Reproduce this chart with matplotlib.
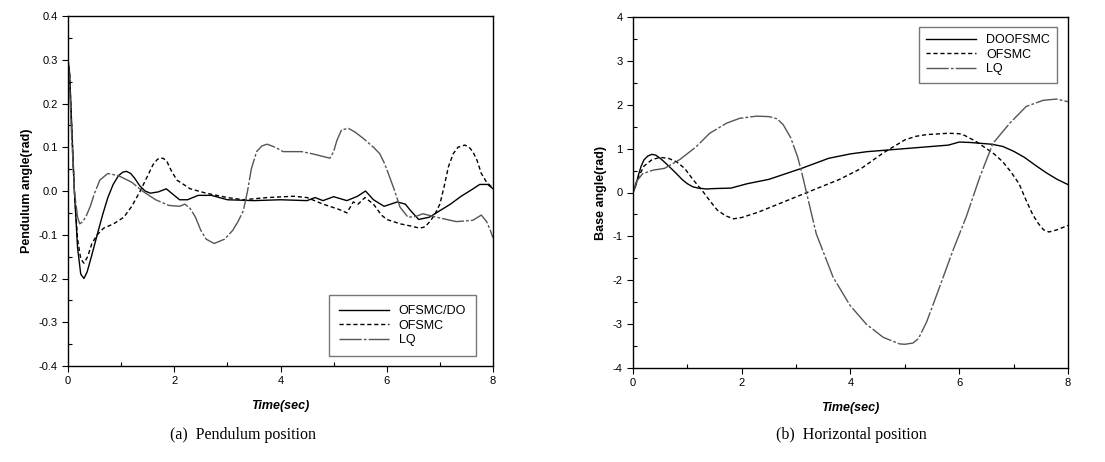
import matplotlib
matplotlib.use('Agg')
from matplotlib import pyplot as plt
from matplotlib.ticker import MultipleLocator

# (a) pendulum angle
t_do_a = [0.0, 0.03, 0.07, 0.12, 0.18, 0.24, 0.3, 0.36, 0.44, 0.55, 0.65, 0.75, 0.85, 0.95, 1.03, 1.1, 1.18,
          1.25, 1.35, 1.45, 1.55, 1.7, 1.85, 1.95, 2.1, 2.25, 2.45, 2.7, 3.0, 3.5, 4.0, 4.5, 4.65, 4.8,
          5.0, 5.25, 5.45, 5.6, 5.75, 5.95, 6.2, 6.35, 6.45, 6.6, 6.8, 7.0, 7.2, 7.4, 7.6, 7.75, 7.9, 8.0]
y_do_a = [0.3, 0.27, 0.15, 0.0, -0.13, -0.19, -0.2, -0.185, -0.15, -0.1, -0.055, -0.015, 0.015, 0.035, 0.043, 0.045, 0.04,
          0.03, 0.012, 0.0, -0.005, -0.002, 0.005, -0.005, -0.02, -0.02, -0.01, -0.01, -0.02, -0.022, -0.02, -0.022, -0.015, -0.022,
          -0.013, -0.022, -0.012, 0.0, -0.02, -0.035, -0.025, -0.03, -0.045, -0.065, -0.06, -0.045, -0.03, -0.012, 0.003, 0.015, 0.015, 0.005]

t_of_a = [0.0, 0.03, 0.07, 0.12, 0.18, 0.24, 0.3, 0.37, 0.45, 0.55, 0.67, 0.86, 1.05, 1.2, 1.36, 1.5, 1.6,
          1.68, 1.74, 1.8, 1.86, 1.95, 2.05, 2.3, 2.6, 3.0, 3.3, 3.75, 4.25, 4.5, 4.8, 5.1, 5.25, 5.37,
          5.46, 5.59, 5.75, 5.9, 6.0, 6.25, 6.45, 6.62, 6.72, 6.81, 6.9, 7.0, 7.08, 7.16, 7.25, 7.34, 7.47,
          7.55, 7.62, 7.7, 7.78, 7.88, 7.97, 8.0]
y_of_a = [0.3, 0.27, 0.14, 0.0, -0.11, -0.155, -0.165, -0.15, -0.12, -0.1, -0.085, -0.075, -0.06, -0.035, 0.0, 0.035, 0.06,
          0.072, 0.076, 0.074, 0.068, 0.045, 0.025, 0.005, -0.005, -0.015, -0.02, -0.015, -0.012, -0.015, -0.03, -0.042, -0.05, -0.025,
          -0.03, -0.015, -0.03, -0.055, -0.065, -0.075, -0.08, -0.085, -0.082, -0.07, -0.055, -0.03, 0.01, 0.055, 0.085, 0.1, 0.105,
          0.1, 0.09, 0.07, 0.04, 0.02, 0.01, 0.005]

t_lq_a = [0.0, 0.02, 0.06, 0.12, 0.18, 0.22, 0.28, 0.35, 0.42, 0.5, 0.6, 0.75, 0.95, 1.2, 1.4, 1.65, 1.9,
          2.1, 2.2, 2.3, 2.4, 2.5, 2.6, 2.75, 2.95, 3.1, 3.2, 3.3, 3.38, 3.45, 3.55, 3.65, 3.75, 3.9,
          4.05, 4.4, 4.6, 4.93, 5.0, 5.06, 5.15, 5.28, 5.4, 5.56, 5.75, 5.87, 5.95, 6.03, 6.15, 6.25,
          6.4, 6.55, 6.68, 6.94, 7.31, 7.62, 7.78, 7.88, 7.95, 8.0]
y_lq_a = [0.3, 0.27, 0.15, 0.0, -0.06, -0.075, -0.07, -0.055, -0.035, -0.005, 0.025, 0.04, 0.035, 0.02, 0.0, -0.02, -0.033,
          -0.035, -0.03, -0.04, -0.06, -0.09, -0.11, -0.12, -0.11, -0.09, -0.07, -0.045, 0.0, 0.05, 0.09, 0.103, 0.107, 0.1,
          0.09, 0.09, 0.085, 0.075, 0.09, 0.115, 0.14, 0.143, 0.135, 0.12, 0.1, 0.085, 0.065, 0.04, 0.0, -0.037,
          -0.06, -0.058, -0.052, -0.06, -0.07, -0.067, -0.055, -0.07, -0.09, -0.107]

# (b) base angle
t_do_b = [0.0, 0.05, 0.1, 0.15, 0.2, 0.27, 0.35, 0.42, 0.5, 0.6, 0.7, 0.8, 0.9, 1.0, 1.1, 1.2, 1.35,
          1.5, 1.8, 2.1, 2.5, 3.1, 3.6, 4.0, 4.3, 4.7, 5.0, 5.5, 5.8, 6.0, 6.2, 6.4, 6.6, 6.8, 7.0,
          7.2, 7.4, 7.6, 7.8, 8.0]
y_do_b = [0.0, 0.15, 0.4, 0.6, 0.74, 0.83, 0.87, 0.85, 0.78, 0.67, 0.55, 0.43, 0.3, 0.2, 0.13, 0.1, 0.08,
          0.09, 0.1, 0.2, 0.3, 0.55, 0.78, 0.88, 0.93, 0.97, 1.0, 1.05, 1.08, 1.15, 1.14, 1.12, 1.1, 1.05, 0.94,
          0.8, 0.62, 0.45, 0.3, 0.18]

t_of_b = [0.0, 0.05, 0.1, 0.2, 0.35, 0.5, 0.65, 0.8, 0.95, 1.1, 1.2, 1.3, 1.42, 1.55, 1.7, 1.85, 2.0,
          2.3, 2.8, 3.3, 3.8, 4.2, 4.6, 5.0, 5.2, 5.4, 5.8, 6.0, 6.1, 6.3, 6.5, 6.65, 6.8, 6.95, 7.1,
          7.22, 7.35, 7.45, 7.55, 7.65, 7.8, 8.0]
y_of_b = [0.0, 0.2, 0.35, 0.6, 0.75, 0.8, 0.78, 0.7, 0.55, 0.3, 0.15, 0.0, -0.2, -0.4, -0.53, -0.6, -0.57,
          -0.45, -0.2, 0.05, 0.3, 0.55, 0.9, 1.2, 1.28, 1.32, 1.35, 1.34, 1.3, 1.17, 1.0, 0.87, 0.7, 0.47, 0.2,
          -0.15, -0.5, -0.7, -0.85, -0.9, -0.85, -0.75]

t_lq_b = [0.0, 0.04, 0.08, 0.18, 0.37, 0.58, 0.86, 1.16, 1.41, 1.72, 1.96, 2.27, 2.5, 2.65, 2.76, 2.9, 3.03,
          3.11, 3.19, 3.37, 3.68, 3.99, 4.29, 4.6, 4.9, 5.0, 5.15, 5.25, 5.4, 5.64, 5.89, 6.13, 6.38,
          6.62, 6.93, 7.23, 7.54, 7.79, 8.0]
y_lq_b = [0.0, 0.15, 0.28, 0.43, 0.51, 0.55, 0.75, 1.04, 1.35, 1.58, 1.69, 1.74, 1.73, 1.68, 1.55, 1.25, 0.8,
          0.42, 0.0, -0.94, -1.93, -2.57, -3.0, -3.3, -3.45, -3.46, -3.43, -3.33, -2.95, -2.15, -1.3, -0.55, 0.36,
          1.12, 1.58, 1.96, 2.1, 2.13, 2.07]

plt.rcParams['font.family'] = ['Liberation Sans', 'DejaVu Sans']
plt.rcParams['font.size'] = 8
plt.rcParams['axes.unicode_minus'] = False

fig = plt.figure(figsize=(11.05, 4.62), dpi=100)
W, H = 1105.0, 462.0
ax1 = fig.add_axes([68 / W, 1 - 366 / H, 425 / W, 350 / H])
ax2 = fig.add_axes([633 / W, 1 - 368 / H, 435 / W, 351 / H])

lq_style = (0, (16, 1.5, 2, 1.5))

ax1.plot(t_do_a, y_do_a, color='black', lw=1.0, label='OFSMC/DO')
ax1.plot(t_of_a, y_of_a, color='black', lw=1.0, ls=(0, (3, 2)), label='OFSMC')
ax1.plot(t_lq_a, y_lq_a, color='#555555', lw=1.0, ls=lq_style, label='LQ')
ax1.set_xlim(0, 8)
ax1.set_ylim(-0.4, 0.4)
ax1.yaxis.set_minor_locator(MultipleLocator(0.05))
ax1.set_yticks([0.4, 0.3, 0.2, 0.1, 0.0, -0.1, -0.2, -0.3, -0.4])
ax1.set_yticklabels(['0.4', '0.3', '0.2', '0.1', '0.0', '-0.1', '-0.2', '-0.3', '-0.4'])
ax1.set_ylabel('Pendulum angle(rad)', fontweight='bold', fontsize=9)
ax1.legend(loc='lower right', frameon=True, fancybox=False, edgecolor='#555555',
           fontsize=9, handlelength=4, borderpad=0.8, labelspacing=0.2,
           bbox_to_anchor=(0.975, 0.01))

ax2.plot(t_do_b, y_do_b, color='black', lw=1.0, label='DOOFSMC')
ax2.plot(t_of_b, y_of_b, color='black', lw=1.0, ls=(0, (3, 2)), label='OFSMC')
ax2.plot(t_lq_b, y_lq_b, color='#555555', lw=1.0, ls=lq_style, label='LQ')
ax2.set_xlim(0, 8)
ax2.set_ylim(-4, 4)
ax2.yaxis.set_major_locator(MultipleLocator(1))
ax2.yaxis.set_minor_locator(MultipleLocator(0.5))
ax2.set_ylabel('Base angle(rad)', fontweight='bold', fontsize=9)
ax2.legend(loc='upper right', frameon=True, fancybox=False, edgecolor='#555555',
           fontsize=9, handlelength=4, borderpad=0.6, labelspacing=0.2,
           bbox_to_anchor=(0.99, 0.99))

for ax in (ax1, ax2):
    ax.xaxis.set_major_locator(MultipleLocator(2))
    ax.xaxis.set_minor_locator(MultipleLocator(1))
    ax.tick_params(which='major', direction='out', length=4, width=0.8)
    ax.tick_params(which='minor', direction='in', length=3, width=0.8)
    ax.set_xlabel('Time(sec)', fontweight='bold', fontstyle='italic', fontsize=9, labelpad=10)
    for s in ax.spines.values():
        s.set_linewidth(1.0)

fig.text(243 / W, 1 - 435 / H, '(a)  Pendulum position', family='Liberation Serif',
         fontsize=11.5, ha='center', va='center')
fig.text(851 / W, 1 - 435 / H, '(b)  Horizontal position', family='Liberation Serif',
         fontsize=11.5, ha='center', va='center')

fig.savefig('out.png', dpi=100)
